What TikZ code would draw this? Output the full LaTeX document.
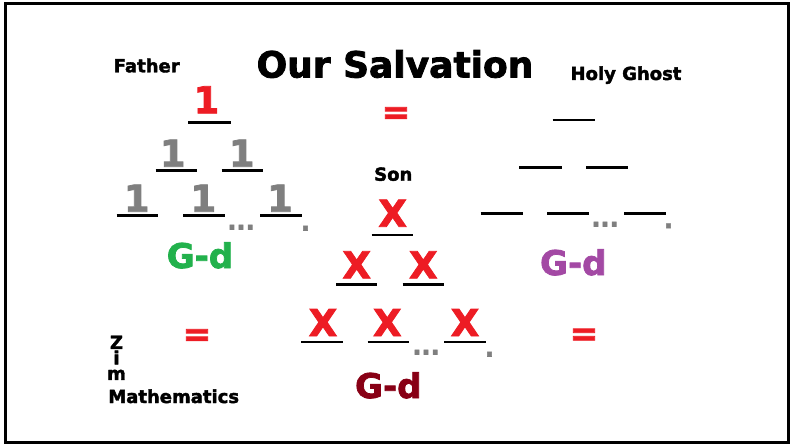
\documentclass[tikz,border=0pt]{standalone}
\usepackage{fontspec}
\setmainfont{DejaVu Sans}[BoldFeatures={FakeBold=2.2}]
\usepackage{tikz}
\usetikzlibrary{positioning}
\usepackage{xcolor}
\definecolor{paintred}{HTML}{ED1C24}
\definecolor{onegrey}{HTML}{7F7F7F}
\definecolor{fathergreen}{HTML}{22B14C}
\definecolor{ghostviolet}{HTML}{A349A4}
\definecolor{sonred}{HTML}{880015}
\tikzset{
  heading/.style={font=\bfseries\fontsize{36}{40}\selectfont,anchor=base,inner sep=0pt},
  person/.style={font=\bfseries\fontsize{18}{20}\selectfont,anchor=base,inner sep=0pt},
  zim/.style={font=\bfseries\fontsize{18}{15.5}\selectfont,anchor=base,inner sep=0pt},
  digit/.style={font=\bfseries\fontsize{37}{40}\selectfont,anchor=base,inner sep=0pt},
  godname/.style={font=\bfseries\fontsize{34}{38}\selectfont,anchor=base,inner sep=0pt},
  equals/.style={font=\bfseries\fontsize{34}{36}\selectfont,text=paintred,inner sep=0pt},
  more/.style={font=\bfseries\fontsize{24}{26}\selectfont,text=onegrey,anchor=base,inner sep=0pt},
  blank/.style={draw=black,line width=2.8pt}
}
\begin{document}
\begin{tikzpicture}[x=1pt,y=-1pt]
  \useasboundingbox (0,0) rectangle (790,444);
  \draw[line width=3pt] (5.3,3.4) rectangle (788.3,442);

  % titles
  \node[heading] (title) at (395,77.5) {Our Salvation};
  \node[person] (father) at (146.7,72.3) {Father};
  \node[person] (ghost) at (626,80) {Holy Ghost};
  \node[person] (son) at (393.3,180.7) {Son};

  % Father
  \node[digit,text=paintred] (f1) at (206.5,113.3) {1};
  \node[digit,text=onegrey] (f21) at (172.7,166.7) {1};
  \node[digit,text=onegrey] (f22) at (241.7,166.7) {1};
  \node[digit,text=onegrey] (f31) at (136.7,211.7) {1};
  \node[digit,text=onegrey] (f32) at (203.3,211.7) {1};
  \node[digit,text=onegrey] (f33) at (280,211.7) {1};
  \draw[blank] (188,122.5) -- (230.7,122.5);
  \draw[blank] (155.7,170.7) -- (196.7,170.7);
  \draw[blank] (221.7,170.7) -- (263.3,170.7);
  \draw[blank] (116.7,215.7) -- (158.3,215.7);
  \draw[blank] (183.3,215.7) -- (225,215.7);
  \draw[blank] (260,215.7) -- (301.7,215.7);
  \node[more] (fdots) at (241,229.5) {...};
  \node[more] (fend) at (305.5,230.5) {.};
  \node[godname,text=fathergreen] (fgod) at (200,268) {G-d};

  % Son
  \node[digit,text=paintred] (s1) at (392.7,226.7) {X};
  \node[digit,text=paintred] (s21) at (356.7,278.3) {X};
  \node[digit,text=paintred] (s22) at (423.3,278.3) {X};
  \node[digit,text=paintred] (s31) at (323,336) {X};
  \node[digit,text=paintred] (s32) at (387.3,336) {X};
  \node[digit,text=paintred] (s33) at (465,336) {X};
  \draw[blank] (371.7,235) -- (413.3,235);
  \draw[blank] (336,284.3) -- (377.3,284.3);
  \draw[blank] (402.7,284.3) -- (444.3,284.3);
  \draw[blank] (301,342) -- (343.3,342);
  \draw[blank] (367.7,342) -- (409.3,342);
  \draw[blank] (444.3,342) -- (486,342);
  \node[more] (sdots) at (426,354.5) {...};
  \node[more] (send) at (489.5,356.5) {.};
  \node[godname,text=sonred] (sgod) at (388.3,398) {G-d};

  % Holy Ghost
  \draw[blank] (552.7,120) -- (595,120);
  \draw[blank] (519.3,167.7) -- (561.7,167.7);
  \draw[blank] (586,167.7) -- (628.3,167.7);
  \draw[blank] (480.7,213.3) -- (522.7,213.3);
  \draw[blank] (547.3,213.3) -- (589.3,213.3);
  \draw[blank] (624,213.3) -- (666,213.3);
  \node[more] (gdots) at (605,226.5) {...};
  \node[more] (gend) at (668.5,228.2) {.};
  \node[godname,text=ghostviolet] (ggod) at (573.3,275) {G-d};

  % equals
  \node[equals] (eqtop) at (396,115.5) {=};
  \node[equals] (eqleft) at (197,337.5) {=};
  \node[equals] (eqright) at (584,337) {=};

  % Zim Mathematics
  \node[zim,align=center,anchor=north] (zim) at (116.5,335.5) {Z\\i\\m};
  \node[zim] (maths) at (173.7,403) {Mathematics};
\end{tikzpicture}
\end{document}
